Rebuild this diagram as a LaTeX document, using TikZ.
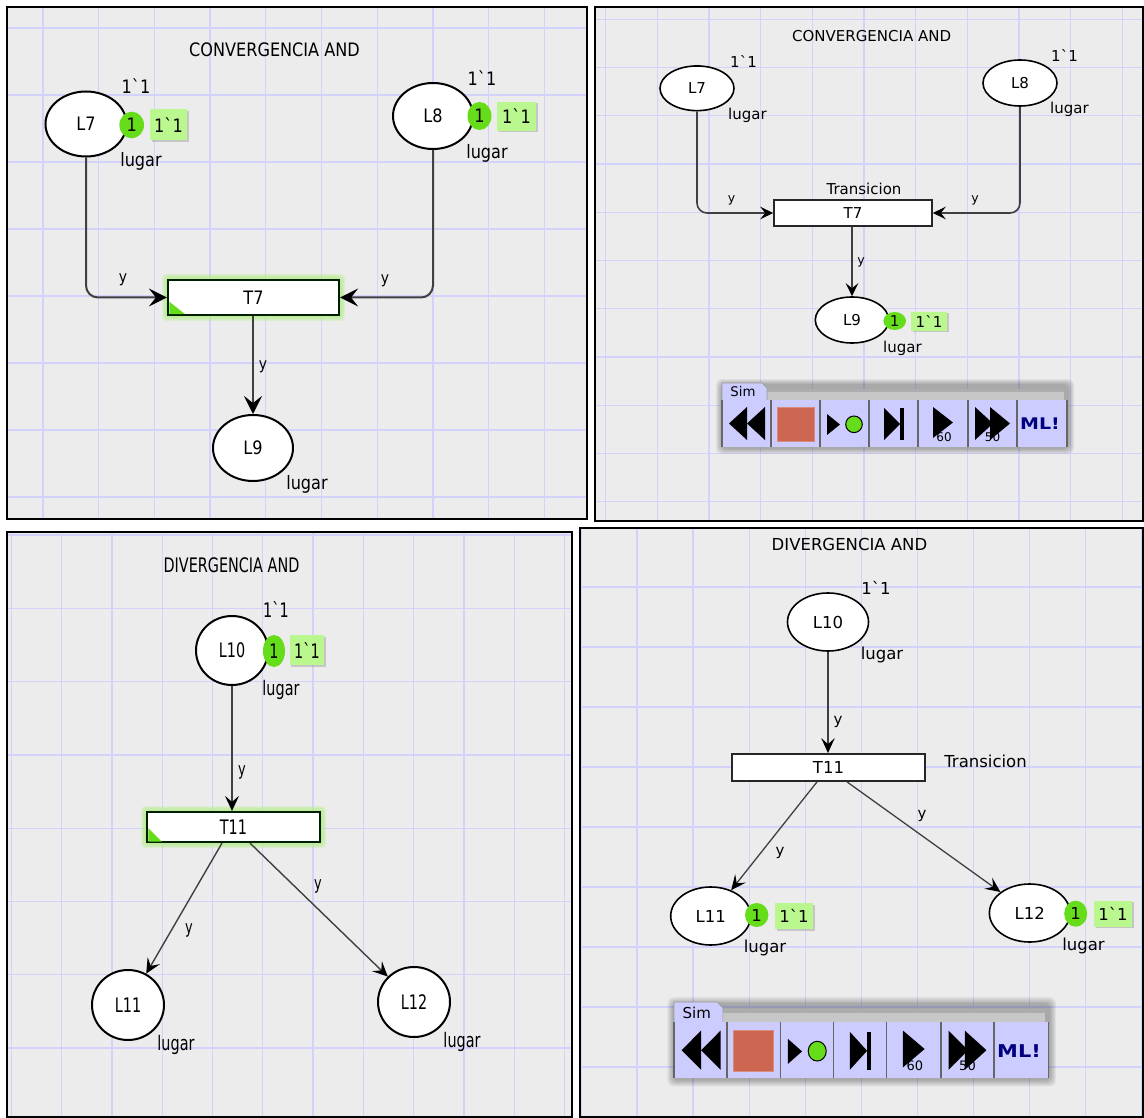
\documentclass[tikz,border=0pt]{standalone}
\usepackage{fontspec}
\usepackage{graphicx}
\usetikzlibrary{arrows.meta,shapes.geometric,calc,shadows}
\newfontfamily\cpn{DejaVu Sans}

\definecolor{canvas}{HTML}{ECECEC}
\definecolor{gridc}{HTML}{D2D2FB}
\definecolor{arcgray}{HTML}{404040}
\definecolor{tokgreen}{HTML}{66DD1A}
\definecolor{markgreen}{HTML}{BAF78E}
\definecolor{glow}{HTML}{B4EE86}
\definecolor{simlav}{HTML}{CCCCFF}
\definecolor{simred}{HTML}{CD6650}
\definecolor{mlblue}{HTML}{000080}

% narrow text used in the two left-hand nets
\newcommand\TLt[1]{\scalebox{0.87}[1]{#1}}
\newcommand\BLt[1]{\scalebox{0.72}[1]{#1}}

% canvas with grid: x0 y0 x1 y1, first grid x, step x, first grid y, step y
\newcommand\cpnpanel[8]{%
  \fill[canvas] (#1,#2) rectangle (#3,#4);
  \begin{scope}
    \clip (#1,#2) rectangle (#3,#4);
    \foreach \gk in {-1,...,14}{\draw[gridc, line width=1.3pt] ({#5+\gk*#6},#2) -- ({#5+\gk*#6},#4);}
    \foreach \gk in {-1,...,14}{\draw[gridc, line width=1.3pt] (#1,{#7+\gk*#8}) -- (#3,{#7+\gk*#8});}
  \end{scope}
  \draw[black, line width=1.3pt] (#1,#2) rectangle (#3,#4);
}

% soft green halo of an enabled transition: centre x, centre y, width, height
\newcommand\glowat[4]{%
  \foreach \g in {1,...,5}{\fill[glow, opacity=0.25, rounded corners=4pt]
    ({#1-#3/2-\g-1},{#2-#4/2-\g-1}) rectangle ({#1+#3/2+\g+1},{#2+#4/2+\g+1});}
}

% simulation tool palette: x, y, xscale, yscale, size of "Sim", size of digits, size of ML!
\newcommand\simbar[7]{%
  \begin{scope}[shift={(#1,#2)}, xscale=#3, yscale=#4]
    \foreach \s in {0,...,5}{\fill[black, opacity=0.05, rounded corners=6pt]
      ({-6+\s},{-4+\s}) rectangle ({352-\s},{71-\s});}
    \fill[black!22] (43,6) rectangle (342,17);
    \fill[black!32] (43,6) rectangle (342,9);
    \fill[simlav] (0,0) -- (40,0) -- (45,5) -- (45,17) -- (0,17) -- cycle;
    \draw[black!40, line width=0.6pt] (0,17) -- (0,0) -- (40,0) -- (45,5) -- (45,17);
    \node[font=\cpn\fontsize{#5}{#5}\selectfont] (simtab) at (21,9) {Sim};
    \fill[simlav] (0,17) rectangle (345,64);
    \foreach \sx in {0,49,98,147,196,246,295,345}{\draw[black!60, line width=1.6pt] (\sx,17) -- (\sx,64);}
    % rewind
    \fill[black] (7,40.5) -- (25,24) -- (25,57) -- cycle;
    \fill[black] (25,40.5) -- (43,24) -- (43,57) -- cycle;
    % stop
    \fill[simred] (55,24) rectangle (92,58);
    \draw[simred!75!white, line width=0.8pt] (55,24) rectangle (92,58);
    % play with token
    \fill[black] (105,31) -- (118,41.5) -- (105,52) -- cycle;
    \filldraw[fill=tokgreen, draw=black, line width=1pt] (132,41.3) circle[radius=8.3pt];
    % single step
    \fill[black] (162,25) -- (178,41) -- (162,57) -- cycle;
    \fill[black] (178,25) rectangle (182,57);
    % play 60
    \node[font=\cpn\fontsize{#6}{#6}\selectfont] (simsixty) at (222,54) {60};
    \fill[black] (211,24) -- (231,39.5) -- (211,55) -- cycle;
    % fast forward 50
    \node[font=\cpn\fontsize{#6}{#6}\selectfont] (simfifty) at (270.5,54) {50};
    \fill[black] (253,24) -- (271,40.5) -- (253,57) -- cycle;
    \fill[black] (268,24) -- (288,40.5) -- (268,57) -- cycle;
    % ML evaluation
    \node[font=\cpn\bfseries\fontsize{#7}{#7}\selectfont, text=mlblue] (simml) at (318,41) {\scalebox{0.95}[0.8]{ML!}};
  \end{scope}
}

\tikzset{
  tlf/.style={font=\cpn\fontsize{18.5}{20}\selectfont},
  trf/.style={font=\cpn\fontsize{15}{17}\selectfont},
  blf/.style={font=\cpn\fontsize{20}{22}\selectfont},
  brf/.style={font=\cpn\fontsize{16.5}{18}\selectfont},
  cpnplace/.style={ellipse, draw=black, fill=white, inner sep=0pt},
  cpntrans/.style={rectangle, draw=black!85, fill=white, inner sep=0pt},
  cpntoken/.style={ellipse, fill=tokgreen, inner sep=0pt},
  markbox/.style={rectangle, fill=markgreen, inner sep=0pt,
    drop shadow={shadow xshift=1.5pt, shadow yshift=-1.5pt, opacity=0.35}},
  cpnarc/.style={draw=arcgray, line width=1.6pt},
  tlarrow/.style={-{Stealth[color=black, length=18pt, width=18pt, inset=7pt]}},
  trarrow/.style={-{Stealth[color=black, length=13pt, width=12.5pt, inset=5pt]}},
  blarrow/.style={-{Stealth[color=black, length=15pt, width=14pt, inset=6pt]}},
  brarrow/.style={-{Stealth[color=black, length=15pt, width=13.5pt, inset=6pt]}},
}

\begin{document}
\begin{tikzpicture}[x=1pt, y=-1pt]
\useasboundingbox (0,0) rectangle (1144,1118);
\fill[white] (0,0) rectangle (1144,1118);

%% ---------- convergencia AND, simple view ----------
\cpnpanel{7}{7}{587}{519}{43}{55.7}{28}{67}
\node[tlf] (tTitle) at (274.5,50) {\TLt{CONVERGENCIA AND}};
\node[cpnplace, line width=2pt, minimum width=81pt, minimum height=65pt, tlf] (tL7) at (86,124) {\TLt{L7}};
\node[tlf] (tL7i) at (136,86) {\TLt{1`1}};
\node[cpntoken, minimum width=24.6pt, minimum height=26.6pt, tlf] (tL7t) at (131.7,125) {\TLt{1}};
\node[markbox, minimum width=37pt, minimum height=31pt, tlf] (tL7m) at (168.5,124.7) {\TLt{1`1}};
\node[tlf] (tL7n) at (141,161.7) {\TLt{lugar}};
\node[cpnplace, line width=2pt, minimum width=80pt, minimum height=66pt, tlf] (tL8) at (433,116) {\TLt{L8}};
\node[tlf] (tL8i) at (482,78) {\TLt{1`1}};
\node[cpntoken, minimum width=24pt, minimum height=28pt, tlf] (tL8t) at (479.5,116) {\TLt{1}};
\node[markbox, minimum width=39pt, minimum height=29pt, tlf] (tL8m) at (516.5,116.5) {\TLt{1`1}};
\node[tlf] (tL8n) at (487,153) {\TLt{lugar}};
\glowat{253.5}{297.5}{171}{35}
\node[cpntrans, draw=black!80!green!60!black, line width=2.2pt, minimum width=171pt, minimum height=35pt] (tT7) at (253.5,297.5) {};
\fill[tokgreen] (169.4,301.7) -- (169.4,314.2) -- (185,314.2) -- cycle;
\node[tlf] (tT7l) at (253.5,297.5) {\TLt{T7}};
\node[cpnplace, line width=2pt, minimum width=80pt, minimum height=66pt, tlf] (tL9) at (253,448) {\TLt{L9}};
\node[tlf] (tL9n) at (307,484) {\TLt{lugar}};
\draw[cpnarc, line width=2pt, tlarrow, rounded corners=12pt] (tL7.south) |- (tT7.west);
\draw[cpnarc, line width=2pt, tlarrow, rounded corners=12pt] (tL8.south) |- (tT7.east);
\draw[cpnarc, line width=2pt, tlarrow] (tT7.south -| tL9.north) -- (tL9.north);
\node[font=\cpn\fontsize{16}{18}\selectfont] (tY1) at (123,280) {\TLt{y}};
\node[font=\cpn\fontsize{16}{18}\selectfont] (tY2) at (385,281) {\TLt{y}};
\node[font=\cpn\fontsize{16}{18}\selectfont] (tY3) at (263,367) {\TLt{y}};

%% ---------- convergencia AND, simulated ----------
\cpnpanel{595}{7}{1143}{521}{605.5}{51.7}{19.3}{48.25}
\node[trf] (rTitle) at (871.6,36) {CONVERGENCIA AND};
\node[cpnplace, line width=1.6pt, minimum width=74pt, minimum height=44.7pt, trf] (rL7) at (697,88.3) {L7};
\node[trf] (rL7i) at (743.5,61.7) {1`1};
\node[trf] (rL7n) at (747.5,115) {lugar};
\node[cpnplace, line width=1.6pt, minimum width=74pt, minimum height=46pt, trf] (rL8) at (1020,83) {L8};
\node[trf] (rL8i) at (1064.5,56) {1`1};
\node[trf] (rL8n) at (1069.5,109) {lugar};
\node[cpntrans, line width=1.6pt, minimum width=158pt, minimum height=25.7pt, trf] (rT7) at (853,213) {T7};
\node[trf] (rT7n) at (864,189) {Transicion};
\node[cpnplace, line width=1.6pt, minimum width=73.4pt, minimum height=46pt, trf] (rL9) at (852,320) {L9};
\node[cpntoken, minimum width=22.6pt, minimum height=18pt, trf] (rL9t) at (894.7,321) {1};
\node[markbox, minimum width=36pt, minimum height=19pt, trf] (rL9m) at (929,321.2) {1`1};
\node[trf] (rL9n) at (902.5,348) {lugar};
\draw[cpnarc, line width=1.6pt, trarrow, rounded corners=10pt] (rL7.south) |- (rT7.west);
\draw[cpnarc, line width=1.6pt, trarrow, rounded corners=10pt] (rL8.south) |- (rT7.east);
\draw[cpnarc, line width=1.6pt, trarrow] (rT7.south -| rL9.north) -- (rL9.north);
\node[font=\cpn\fontsize{12.5}{14}\selectfont] (rY1) at (731.5,200) {y};
\node[font=\cpn\fontsize{12.5}{14}\selectfont] (rY2) at (975,200) {y};
\node[font=\cpn\fontsize{12.5}{14}\selectfont] (rY3) at (861,262) {y};
\simbar{722}{383}{1}{1}{13.3}{12}{20}

%% ---------- divergencia AND, simple view ----------
\cpnpanel{7}{532}{572}{1117}{11.3}{50.3}{535}{73.3}
\node[blf] (bTitle) at (231.5,565) {\BLt{DIVERGENCIA AND}};
\node[blf] (bL10i) at (276,609) {\BLt{1`1}};
\node[cpnplace, line width=2pt, minimum width=72pt, minimum height=69pt, blf] (bL10) at (232,650.5) {\BLt{L10}};
\node[cpntoken, minimum width=22pt, minimum height=32pt, blf] (bL10t) at (274,651) {\BLt{1}};
\node[markbox, minimum width=34.5pt, minimum height=30pt, blf] (bL10m) at (307,650) {\BLt{1`1}};
\node[blf] (bL10n) at (281,690) {\BLt{lugar}};
\glowat{233.5}{827}{173}{30}
\node[cpntrans, draw=black!80!green!60!black, line width=2.2pt, minimum width=173pt, minimum height=30pt] (bT11) at (233.5,827) {};
\fill[tokgreen] (148.4,828.3) -- (148.4,841.6) -- (161.7,841.6) -- cycle;
\node[blf] (bT11l) at (233.5,827) {\BLt{T11}};
\node[cpnplace, line width=2pt, minimum width=72pt, minimum height=70pt, blf] (bL11) at (128,1005) {\BLt{L11}};
\node[blf] (bL11n) at (176,1045) {\BLt{lugar}};
\node[cpnplace, line width=2pt, minimum width=72pt, minimum height=70pt, blf] (bL12) at (414,1002) {\BLt{L12}};
\node[blf] (bL12n) at (462,1042) {\BLt{lugar}};
\draw[cpnarc, line width=1.6pt, blarrow] (bL10.south) -- (bL10.south |- bT11.north);
\draw[cpnarc, line width=1.4pt, blarrow] ($(bT11.south)+(-11.5,0)$) -- (bL11);
\draw[cpnarc, line width=1.4pt, blarrow] ($(bT11.south)+(16.5,0)$) -- (bL12);
\node[font=\cpn\fontsize{18}{20}\selectfont] (bY1) at (242,772) {\BLt{y}};
\node[font=\cpn\fontsize{18}{20}\selectfont] (bY2) at (189,930) {\BLt{y}};
\node[font=\cpn\fontsize{18}{20}\selectfont] (bY3) at (318,886) {\BLt{y}};

%% ---------- divergencia AND, simulated ----------
\cpnpanel{580}{528}{1143}{1117}{637}{56.1}{587}{60}
\node[brf] (sTitle) at (849.5,544) {DIVERGENCIA AND};
\node[brf] (sL10i) at (876,588) {1`1};
\node[cpnplace, line width=1.6pt, minimum width=81pt, minimum height=58pt, brf] (sL10) at (828,622) {L10};
\node[brf] (sL10n) at (882,655) {lugar};
\node[cpntrans, line width=1.8pt, minimum width=193pt, minimum height=27pt, brf] (sT11) at (828.5,767.5) {T11};
\node[brf] (sT11n) at (985.5,761) {Transicion};
\node[cpnplace, line width=1.6pt, minimum width=80pt, minimum height=58pt, brf] (sL11) at (710.7,916) {L11};
\node[cpntoken, minimum width=23.4pt, minimum height=24pt, brf] (sL11t) at (756.7,915) {1};
\node[markbox, minimum width=38pt, minimum height=26pt, brf] (sL11m) at (794,916) {1`1};
\node[brf] (sL11n) at (765,948) {lugar};
\node[cpnplace, line width=1.6pt, minimum width=80.6pt, minimum height=58pt, brf] (sL12) at (1029.7,913) {L12};
\node[cpntoken, minimum width=23pt, minimum height=26pt, brf] (sL12t) at (1075.7,913.7) {1};
\node[markbox, minimum width=38pt, minimum height=26pt, brf] (sL12m) at (1113,913.7) {1`1};
\node[brf] (sL12n) at (1083.5,946) {lugar};
\draw[cpnarc, line width=1.7pt, brarrow] (sL10.south) -- (sL10.south |- sT11.north);
\draw[cpnarc, line width=1.3pt, brarrow] ($(sT11.south)+(-11.5,0)$) -- (sL11);
\draw[cpnarc, line width=1.3pt, brarrow] ($(sT11.south)+(18.5,0)$) -- (sL12);
\node[font=\cpn\fontsize{15}{17}\selectfont] (sY1) at (838,722) {y};
\node[font=\cpn\fontsize{15}{17}\selectfont] (sY2) at (780,853) {y};
\node[font=\cpn\fontsize{15}{17}\selectfont] (sY3) at (922,816) {y};
\simbar{674}{1002}{1.085}{1.19}{15}{13}{22}

\end{tikzpicture}
\end{document}
